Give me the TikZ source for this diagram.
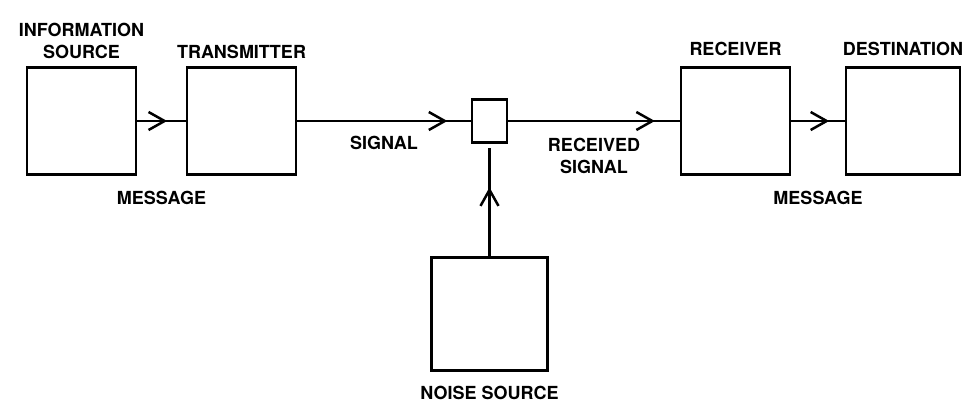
\documentclass[tikz,border=0pt]{standalone}
\usepackage{fontspec}
\setmainfont{TeX Gyre Heros}
\usepackage{tikz}
\usetikzlibrary{positioning,arrows.meta,decorations.markings}

\begin{document}
\begin{tikzpicture}[
        x=1pt, y=-1pt,
        box/.style={rectangle, draw, line width=2.5pt, outer sep=0pt, minimum width=109pt, minimum height=107pt, inner sep=0pt},
        tag/.style={inner sep=0pt, align=center, font=\fontsize{18}{22}\selectfont\bfseries},
        flow/.style={line width=2.5pt, postaction={decorate}, decoration={markings, mark=at position #1 with {\arrow{Straight Barb[length=16pt, width=18pt, line width=2.5pt]}}}}
    ]
        \useasboundingbox (0,0) rectangle (969,401);

        % Source and transmitter
        \node[box] (src) at (81.5,121) {};
        \node[box, right=51pt of src] (tx) {};

        % Channel
        \node[box, minimum width=35pt, minimum height=43pt, right=176pt of tx] (mix) {};

        % Receiver and destination
        \node[box, right=174pt of mix] (rx) {};
        \node[box, minimum width=114pt, right=56pt of rx] (dest) {};

        % Noise
        \node[box, minimum width=116pt, minimum height=113pt, below=115pt of mix] (noise) {};

        % Titles
        \node[tag, above=9pt of src] (srctag) {INFORMATION\\SOURCE};
        \node[tag, above=9pt of tx] (txtag) {TRANSMITTER};
        \node[tag, above=12pt of rx] (rxtag) {RECEIVER};
        \node[tag, above=12pt of dest] (desttag) {DESTINATION};
        \node[tag, below=15pt of noise] (noisetag) {NOISE SOURCE};

        % Arrows
        \draw[flow=0.61] (src) -- node[tag, below=69pt] {MESSAGE} (tx);
        \draw[flow=0.86] (tx) -- node[tag, below=14pt] {SIGNAL} (mix);
        \draw[flow=0.85] (mix) -- node[tag, below=16pt] {RECEIVED\\SIGNAL} (rx);
        \draw[flow=0.70] (rx) -- node[tag, below=69pt] {MESSAGE} (dest);
        \draw[flow=0.61, shorten >=6pt] (noise) -- (mix);
    \end{tikzpicture}
\end{document}
